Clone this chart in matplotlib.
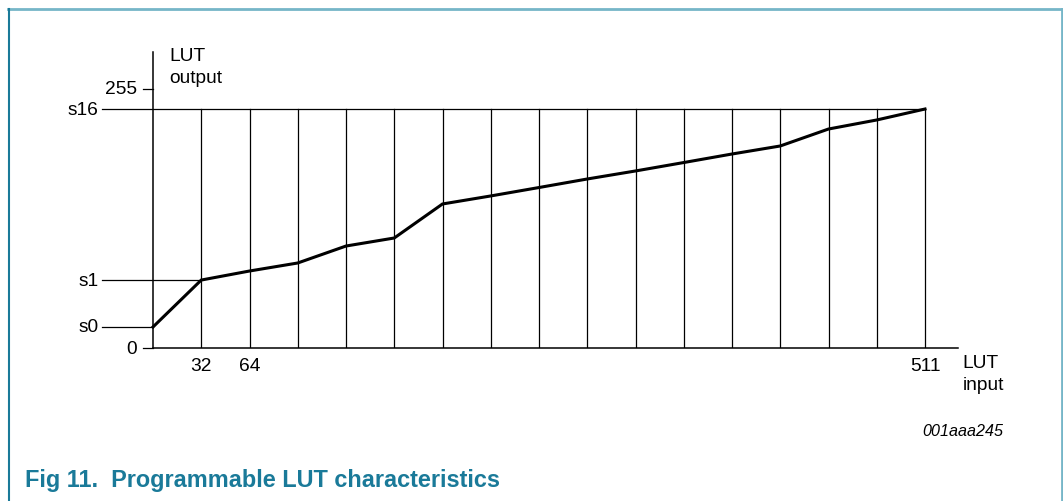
import numpy as np
import matplotlib
matplotlib.use("Agg")
import matplotlib.pyplot as plt
from matplotlib.lines import Line2D

plt.rcParams['font.family'] = ['Liberation Sans', 'DejaVu Sans']

# data
seg_x = [0, 32, 64, 96, 128, 160, 192, 224, 256, 288, 320, 352, 384, 416, 448, 480, 512]
lut_y = [20.7, 66.9, 75.8, 83.7, 100.4, 108.3, 141.8, 149.7, 158.0, 166.4,
         174.3, 182.6, 191.0, 198.9, 215.6, 224.5, 235.3]
s_names = ['s0', 's1', 's16']
s_vals = [20.7, 66.9, 235.3]
s_ends = [0, 32, 512]
xtick_pos = [32, 64, 512]
xtick_lab = ['32', '64', '511']
ytick_pos = [0, 255]
ytick_lab = ['0', '255']

W, H = 1063, 502
fig = plt.figure(figsize=(W / 100, H / 100), dpi=100)

def fx(px):
    return px / W

def fy(py):
    return 1 - py / H

FS = 13.8

# frame around the figure
teal_dark = '#1a7a99'
teal_light = '#76b6c8'
fig.add_artist(Line2D([fx(8), fx(1061.5)], [fy(9.5), fy(9.5)], color=teal_light, lw=2))
fig.add_artist(Line2D([fx(1061.5), fx(1061.5)], [fy(9.5), fy(502)], color=teal_light, lw=2))
fig.add_artist(Line2D([fx(8.5), fx(8.5)], [fy(9.5), fy(502)], color=teal_dark, lw=1.5))

ax = fig.add_axes([fx(153), fy(349), (958 - 153) / W, (349 - 53) / H])
ax.set_xlim(0, 805 / 772 * 512)
ax.set_ylim(0, 296 / 259 * 255)
for sp in ['top', 'right']:
    ax.spines[sp].set_visible(False)
for sp in ['left', 'bottom']:
    ax.spines[sp].set_linewidth(1.1)
ax.set_xticks([])
ax.set_yticks([])

# vertical grid lines for each segment
for x in seg_x[1:]:
    ax.plot([x, x], [0, s_vals[-1]], color='black', lw=0.9)

# reference levels s0, s1, s16 with lines out to the labels
for name, v, xe in zip(s_names, s_vals, s_ends):
    ax.plot([-33.8, xe], [v, v], color='black', lw=0.9, clip_on=False)
    ax.text(-36, v, name, ha='right', va='center', fontsize=FS)

# y ticks 0 and 255
for v, lab in zip(ytick_pos, ytick_lab):
    ax.plot([-6.6, 0], [v, v], color='black', lw=0.9, clip_on=False)
    ax.text(-10.5, v, lab, ha='right', va='center', fontsize=FS)

for x, lab in zip(xtick_pos, xtick_lab):
    ax.text(x, -17, lab, ha='center', va='center', fontsize=FS)

ax.plot(seg_x, lut_y, color='black', lw=2.2, solid_joinstyle='miter', clip_on=False)

ax.text(11, 296, 'LUT\noutput', ha='left', va='top', fontsize=FS, linespacing=1.35)
ax.text(537, -6, 'LUT\ninput', ha='left', va='top', fontsize=FS, linespacing=1.35)

fig.text(fx(1003), fy(432), '001aaa245', ha='right', va='center',
         fontsize=11.6, style='italic')
fig.text(fx(25), fy(481), 'Fig 11.  Programmable LUT characteristics', ha='left',
         va='center', fontsize=16.9, fontweight='bold', color=teal_dark)

fig.savefig('out.png', dpi=100)
